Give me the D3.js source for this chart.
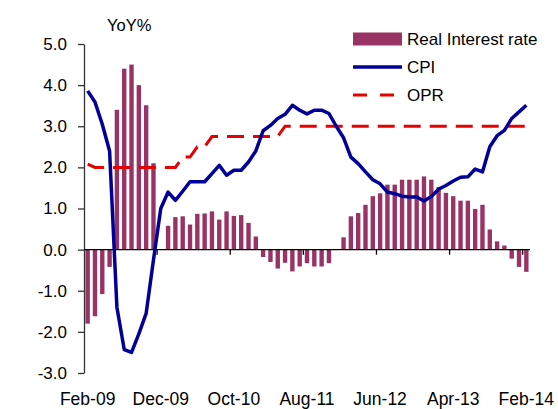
<!DOCTYPE html>
<html>
<head>
<meta charset="utf-8">
<script src="https://cdn.jsdelivr.net/npm/d3@7/dist/d3.min.js"></script>
<style>
  body { margin: 0; background: #fff; }
  text { font-family: "Liberation Sans", Arial, sans-serif; fill: #000; }
</style>
</head>
<body>
<div class="wrap-chart"></div>
<script>
var
  width = 558,
  height = 409,
  margin = {top: 44, right: 28, bottom: 36, left: 84},
  startMonth = new Date(2009, 1, 1),
  monthCount = 61,
  tickEvery = 10;

// real interest rate (bars), null where the bar is missing
var realRate = [
  -1.8, -1.62, -1.08, -0.42, 3.4, 4.4, 4.5, 4.0, 3.51, 2.1,
  null, 0.58, 0.79, 0.81, 0.61, 0.87, 0.88, 0.93, 0.73, 0.93,
  0.82, 0.84, 0.65, 0.32, -0.18, -0.3, -0.46, -0.32, -0.53, -0.41,
  -0.33, -0.41, -0.41, -0.33, null, 0.3, 0.81, 0.89, 1.09, 1.3,
  1.37, 1.58, 1.58, 1.7, 1.7, 1.7, 1.78, 1.7, 1.52, 1.38,
  1.3, 1.19, 1.19, 0.99, 1.09, 0.49, 0.2, 0.1, -0.22, -0.42,
  -0.54
];

var cpi = [
  3.86, 3.59, 3.05, 2.4, -1.4, -2.43, -2.5, -2.05, -1.55, -0.25,
  1.0, 1.4, 1.2, 1.42, 1.65, 1.65, 1.65, 1.85, 2.05, 1.81,
  1.93, 1.93, 2.13, 2.4, 2.89, 3.02, 3.19, 3.29, 3.51, 3.39,
  3.3, 3.39, 3.39, 3.31, 3.0, 2.72, 2.25, 2.09, 1.89, 1.7,
  1.6, 1.4, 1.36, 1.3, 1.28, 1.28, 1.18, 1.29, 1.47, 1.56,
  1.67, 1.76, 1.77, 1.96, 1.89, 2.5, 2.77, 2.9, 3.19, 3.35,
  3.51
];

var opr = [
  2.08, 2.0, 2.0, 2.0, 2.0, 2.0, 2.0, 2.0, 2.0, 2.0,
  2.0, 2.0, 2.0, 2.25, 2.25, 2.5, 2.5, 2.75, 2.75, 2.75,
  2.75, 2.75, 2.75, 2.75, 2.75, 2.75, 2.75, 3.0, 3.0, 3.0,
  3.0, 3.0, 3.0, 3.0, 3.0, 3.0, 3.0, 3.0, 3.0, 3.0,
  3.0, 3.0, 3.0, 3.0, 3.0, 3.0, 3.0, 3.0, 3.0, 3.0,
  3.0, 3.0, 3.0, 3.0, 3.0, 3.0, 3.0, 3.0, 3.0, 3.0,
  3.0
];

var yTicks = [-3, -2, -1, 0, 1, 2, 3, 4, 5];
var legendLabels = ["Real Interest rate", "CPI", "OPR"];

var colors = {bar: "#993366", cpi: "#000099", opr: "#e60000", axis: "#333"};

var months = d3.timeMonth.range(startMonth, d3.timeMonth.offset(startMonth, monthCount));
var fmt = d3.timeFormat("%b-%y");
// excel style: plain hyphen for negatives
var yFmt = function (d) { return d.toFixed(1); };

var svg = d3.select(".wrap-chart")
  .append("svg")
  .attr("width", width)
  .attr("height", height);

var x = d3.scaleBand()
  .domain(d3.range(monthCount))
  .range([margin.left, width - margin.right])
  .paddingInner(0.4)
  .paddingOuter(0.2);

var xLine = function (i) {
  return x(i) + x.bandwidth() / 2;
};

var y = d3.scaleLinear()
  .domain([-3, 5])
  .range([373, margin.top]);

// bars
svg.append("g")
  .selectAll("rect")
  .data(realRate.map(function (v, i) { return {i: i, v: v}; }).filter(function (d) { return d.v !== null; }))
  .enter()
  .append("rect")
  .attr("x", function (d) { return x(d.i); })
  .attr("width", x.bandwidth())
  .attr("y", function (d) { return y(Math.max(0, d.v)); })
  .attr("height", function (d) { return Math.abs(y(d.v) - y(0)); })
  .attr("fill", colors.bar);

// y axis
var yAxis = svg.append("g")
  .attr("transform", "translate(" + margin.left + ",0)")
  .call(d3.axisLeft(y).tickValues(yTicks).tickSize(6).tickSizeOuter(0).tickPadding(11).tickFormat(yFmt));
yAxis.select(".domain").attr("stroke", colors.axis).attr("stroke-width", 1.3);
yAxis.selectAll(".tick line").attr("stroke", colors.axis).attr("stroke-width", 1.3);
yAxis.selectAll(".tick text").style("font-size", "17px").attr("fill", "#000");

// x axis on the zero line, ticks between categories
var x0 = margin.left, x1 = width - margin.right;
var xAxis = svg.append("g");
xAxis.append("line")
  .attr("x1", x0).attr("x2", x1)
  .attr("y1", y(0)).attr("y2", y(0))
  .attr("stroke", "#000").attr("stroke-width", 1.3);
xAxis.selectAll(".xtick")
  .data(d3.range(tickEvery, monthCount, tickEvery))
  .enter()
  .append("line")
  .attr("class", "xtick")
  .attr("x1", function (i) { return x0 + i * (x1 - x0) / monthCount; })
  .attr("x2", function (i) { return x0 + i * (x1 - x0) / monthCount; })
  .attr("y1", y(0)).attr("y2", y(0) + 5)
  .attr("stroke", "#000").attr("stroke-width", 1.3);
xAxis.selectAll(".xlabel")
  .data(d3.range(0, monthCount, tickEvery))
  .enter()
  .append("text")
  .attr("class", "xlabel")
  .attr("x", xLine)
  .attr("y", 405)
  .attr("text-anchor", "middle")
  .style("font-size", "17.5px")
  .text(function (i) { return fmt(months[i]); });

// lines
var line = d3.line()
  .x(function (d, i) { return xLine(i); })
  .y(function (d) { return y(d); });

svg.append("path")
  .datum(opr)
  .attr("d", line)
  .attr("fill", "none")
  .attr("stroke", colors.opr)
  .attr("stroke-width", 3)
  .attr("stroke-dasharray", "17,9");

svg.append("path")
  .datum(cpi)
  .attr("d", line)
  .attr("fill", "none")
  .attr("stroke", colors.cpi)
  .attr("stroke-width", 3.5)
  .attr("stroke-linejoin", "round");

// title
svg.append("text")
  .attr("x", 107)
  .attr("y", 31)
  .style("font-size", "16.5px")
  .text("YoY%");

// legend
var legend = svg.append("g").attr("transform", "translate(353,0)");
var rowY = [39, 67, 95];
legend.append("rect")
  .attr("x", 0).attr("y", rowY[0] - 6.5)
  .attr("width", 49).attr("height", 13)
  .attr("fill", colors.bar);
legend.append("line")
  .attr("x1", 0).attr("x2", 49)
  .attr("y1", rowY[1]).attr("y2", rowY[1])
  .attr("stroke", colors.cpi).attr("stroke-width", 3.5);
legend.append("line")
  .attr("x1", 0).attr("x2", 44)
  .attr("y1", rowY[2]).attr("y2", rowY[2])
  .attr("stroke", colors.opr).attr("stroke-width", 3)
  .attr("stroke-dasharray", "14,13");
legend.selectAll(".legtext")
  .data(legendLabels)
  .enter()
  .append("text")
  .attr("class", "legtext")
  .attr("x", 54)
  .attr("y", function (d, i) { return rowY[i]; })
  .attr("dy", "0.35em")
  .style("font-size", "17px")
  .text(function (d) { return d; });
</script>
</body>
</html>
